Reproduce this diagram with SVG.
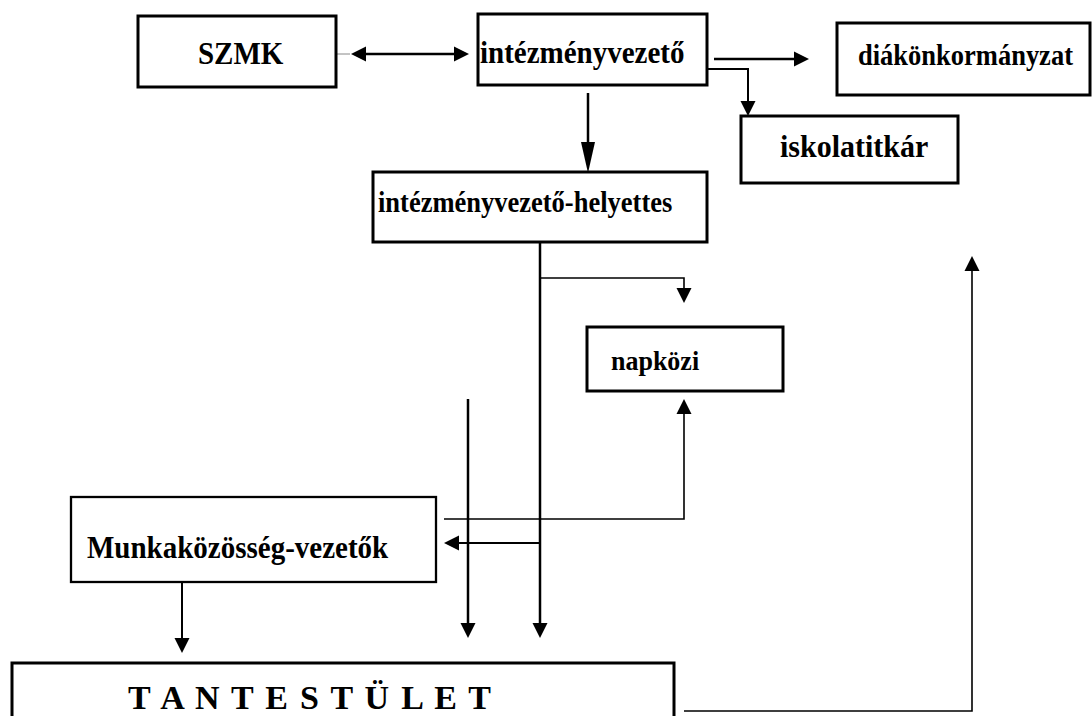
<svg xmlns="http://www.w3.org/2000/svg" width="1092" height="716" viewBox="0 0 1092 716">
<defs>
<style>
.box{fill:#fff;stroke:#000;stroke-width:3}
.boxt{fill:#fff;stroke:#000;stroke-width:2.3}
.lbl{font-family:"Liberation Serif","Times New Roman",serif;font-weight:bold;fill:#000}
.ln{fill:none;stroke:#000;stroke-width:2.5}
.lnm{fill:none;stroke:#000;stroke-width:2}
.lnt{fill:none;stroke:#000;stroke-width:1.6}
</style>
<marker id="ah" markerUnits="userSpaceOnUse" markerWidth="16" markerHeight="16" refX="0" refY="7.5" orient="auto" overflow="visible">
<path d="M0,0 L15,7.5 L0,15 Z" fill="#000"/>
</marker>
<marker id="ahs" markerUnits="userSpaceOnUse" markerWidth="16" markerHeight="16" refX="0" refY="7.5" orient="auto-start-reverse" overflow="visible">
<path d="M0,0 L15,7.5 L0,15 Z" fill="#000"/>
</marker>
<marker id="ahl" markerUnits="userSpaceOnUse" markerWidth="32" markerHeight="16" refX="0" refY="7" orient="auto" overflow="visible">
<path d="M0,0 L31,7 L0,14 Z" fill="#000"/>
</marker>
</defs>
<rect width="1092" height="716" fill="#fff"/>
<g id="connectors">
<line x1="326" y1="54" x2="350" y2="54" stroke="#888" stroke-width="1"/>
<line class="ln" x1="366" y1="54" x2="454" y2="54" marker-start="url(#ahs)" marker-end="url(#ah)"/>
<line class="ln" x1="588" y1="93" x2="588" y2="142" marker-end="url(#ahl)"/>
<line class="ln" x1="714" y1="59" x2="794" y2="59" marker-end="url(#ah)"/>
<path class="lnm" d="M707,69 H748 V101" marker-end="url(#ah)"/>
<path class="ln" d="M540,242 V623" marker-end="url(#ah)"/>
<path class="lnt" d="M540,278 H684 V288" marker-end="url(#ah)"/>
<path class="ln" d="M468,399 V623" marker-end="url(#ah)"/>
<path class="lnm" d="M540,543 H459" marker-end="url(#ah)"/>
<path class="lnt" d="M444,519 H684 V414" marker-end="url(#ah)"/>
<path class="lnm" d="M182,582 V638" marker-end="url(#ah)"/>
<path class="lnt" d="M684,711 H972 V271" marker-end="url(#ah)"/>
</g>
<g id="szmk">
<rect class="box" x="138" y="16" width="198" height="71"/>
<text class="lbl" transform="translate(198,64) scale(1,1.08)" font-size="29">SZMK</text>
</g>
<g id="intezmenyvezeto">
<rect class="box" x="478" y="14" width="229" height="71"/>
<text class="lbl" transform="translate(480,63) scale(1,1.08)" font-size="29">intézményvezető</text>
</g>
<g id="diakonkormanyzat">
<rect class="box" x="837" y="23" width="253" height="72"/>
<text class="lbl" transform="translate(858,65) scale(1,1.08)" font-size="26.5">diákönkormányzat</text>
</g>
<g id="iskolatitkar">
<rect class="box" x="741" y="116" width="217" height="67"/>
<text class="lbl" transform="translate(780,157) scale(1,1.08)" font-size="30">iskolatitkár</text>
</g>
<g id="helyettes">
<rect class="box" x="373" y="172" width="334" height="70"/>
<text class="lbl" transform="translate(378,212) scale(1,1.08)" font-size="26.5">intézményvezető-helyettes</text>
</g>
<g id="napkozi">
<rect class="box" x="587" y="327" width="196" height="64"/>
<text class="lbl" transform="translate(611,370) scale(1,1.08)" font-size="26">napközi</text>
</g>
<g id="munkakozosseg">
<rect class="boxt" x="71" y="497" width="365" height="85"/>
<text class="lbl" transform="translate(87,558) scale(1,1.08)" font-size="29">Munkaközösség-vezetők</text>
</g>
<g id="tantestulet">
<rect class="box" x="12" y="663" width="662" height="80"/>
<text class="lbl" x="128" y="709" font-size="34" letter-spacing="1.8">T A N T E S T Ü L E T</text>
</g>
</svg>
